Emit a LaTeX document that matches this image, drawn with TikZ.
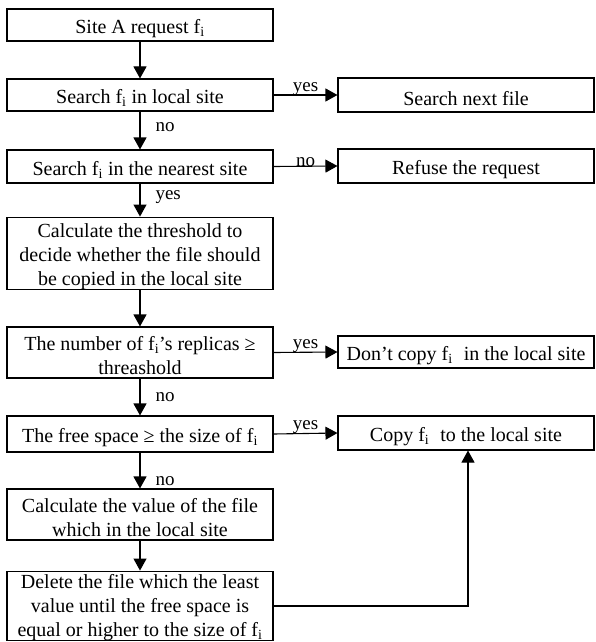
\documentclass[tikz,border=0pt]{standalone}
\usepackage{fontspec}
\setmainfont{Liberation Serif}
\usetikzlibrary{arrows.meta}
\newcommand{\fii}{f\textsubscript{i}}
\newcommand{\st}{\rule{0pt}{20.5pt}}
\begin{document}
\begin{tikzpicture}[x=1pt,y=-1pt,
  box/.style={draw, line width=1.1pt, inner sep=0pt, align=center,
    font=\fontsize{20}{24}\selectfont},
  lbox/.style={box, minimum width=266pt},
  rbox/.style={box, minimum width=256pt},
  arr/.style={line width=1.1pt, -{Triangle[length=12pt,width=13pt]}},
  lab/.style={font=\fontsize{19}{22}\selectfont, inner sep=1pt},
  side/.style={lab, anchor=south, inner sep=0pt, yshift=-1pt}]
\useasboundingbox (0,0) rectangle (595,642);

% left column
\node[lbox, minimum height=32pt] (n1) at (140,25) {\st Site A request \fii};
\node[lbox, minimum height=32pt] (n2) at (140,95) {\st Search \fii\ in local site};
\node[lbox, minimum height=33pt] (n3) at (140,166.5) {\st Search \fii\ in the nearest site};
\node[lbox, minimum height=71pt] (n4) at (140,253.5) {\st Calculate the threshold to\\decide whether the file should\\be copied in the local site};
\node[lbox, minimum height=51pt] (n5) at (140,352.5) {\st The number of \fii’s replicas ≥\\threashold};
\node[lbox, minimum height=36pt] (n6) at (140,434) {\st The free space ≥ the size of \fii};
\node[lbox, minimum height=51pt] (n7) at (140,514.5) {\st Calculate the value of the file\\which in the local site};
\node[lbox, minimum height=68pt] (n8) at (140,606) {\rule{0pt}{17.5pt}Delete the file which the least\\value until the free space is\\equal or higher to the size of \fii};

% right column
\node[rbox, minimum height=34pt] (r1) at (466,95) {\st Search next file};
\node[rbox, minimum height=34pt] (r2) at (466,166) {\st Refuse the request};
\node[rbox, minimum height=32pt] (r3) at (466,352) {\st Don’t copy \fii\hspace{0.3em} in the local site};
\node[rbox, minimum height=34pt] (r4) at (466,433) {\st Copy \fii\hspace{0.3em} to the local site};

% vertical connectors
\draw[arr] (n1) -- (n2);
\draw[arr] (n2) -- node[lab, right=14pt, pos=0.42] {no} (n3);
\draw[arr] (n3) -- node[lab, right=14pt, pos=0.42] {yes} (n4);
\draw[arr] (n4) -- (n5);
\draw[arr] (n5) -- node[lab, right=14pt, pos=0.5] {no} (n6);
\draw[arr] (n6) -- node[lab, right=14pt, pos=0.8] {no} (n7);
\draw[arr] (n7) -- (n8);

% side connectors
\draw[arr] (n2.east) -- node[side] {yes} (r1.west);
\draw[arr] (n3.east) -- node[side] {no} (r2.west);
\draw[arr] (n5.east) -- node[side] {yes} (r3.west);
\draw[arr] (n6.east) -- node[side] {yes} (r4.west);

\coordinate (up) at ([xshift=2pt]r4.south);
\draw[arr] (n8.east) -| (up);
\end{tikzpicture}
\end{document}
